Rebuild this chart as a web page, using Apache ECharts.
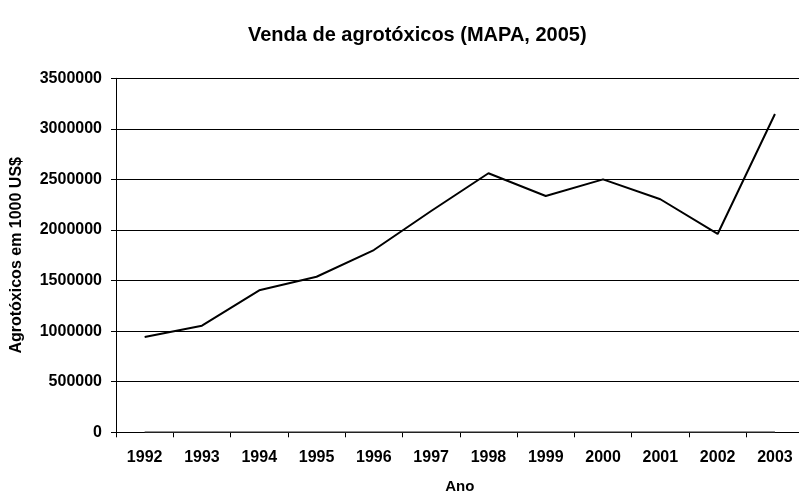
<!DOCTYPE html>
<html><head><meta charset="utf-8">
<script src="https://cdn.jsdelivr.net/npm/echarts@6/dist/echarts.min.js"></script>
<style>html,body{margin:0;padding:0;background:#fff}#c{width:799px;height:491px}</style>
</head><body><div id="c"></div>
<script>
const years = ['1992','1993','1994','1995','1996','1997','1998','1999','2000','2001','2002','2003'];
const sales = [942000,1054000,1404000,1538000,1802000,2188000,2561000,2336000,2501000,2304000,1961000,3147000];
const baseline = [0,0,0,0,0,0,0,0,0,0,0,0];
const yTicks = [0,500000,1000000,1500000,2000000,2500000,3000000,3500000];
const FONT = 'Liberation Sans, Arial, sans-serif';
const chart = echarts.init(document.getElementById('c'), null, {renderer:'canvas'});
chart.setOption({
  animation:false,
  backgroundColor:'#fff',
  title:{text:'Venda de agrotóxicos (MAPA, 2005)', left:243, top:20,
    textStyle:{fontFamily:FONT,fontWeight:'bold',fontSize:20,color:'#000'}},
  grid:{left:116, top:78.3, right:-4.6, bottom:58.7, outerBoundsMode:'none', containLabel:false},
  xAxis:{type:'category', data:years, boundaryGap:true,
    name:'Ano', nameLocation:'middle', nameGap:47,
    nameTextStyle:{fontFamily:FONT,fontWeight:'bold',fontSize:15,color:'#000'},
    axisLine:{lineStyle:{color:'#000',width:1}},
    axisTick:{show:true,length:5,alignWithLabel:false,lineStyle:{color:'#000'}},
    axisLabel:{fontFamily:FONT,fontWeight:'bold',fontSize:16,color:'#000',margin:17,interval:0},
    splitLine:{show:false}},
  yAxis:{type:'value', min:yTicks[0], max:yTicks[yTicks.length-1], interval:500000,
    name:'Agrotóxicos em 1000 US$', nameLocation:'middle', nameGap:91,
    nameTextStyle:{fontFamily:FONT,fontWeight:'bold',fontSize:16,color:'#000'},
    axisLine:{show:true,lineStyle:{color:'#000',width:1}},
    axisTick:{show:true,length:5,lineStyle:{color:'#000'}},
    axisLabel:{fontFamily:FONT,fontWeight:'bold',fontSize:16,color:'#000',margin:14,
      formatter:function(v){return String(v);}},
    splitLine:{show:true,lineStyle:{color:'#000',width:1}}},
  series:[
    {type:'line', data:baseline, symbol:'none', lineStyle:{color:'#222',width:1.6}, z:3},
    {type:'line', data:sales, symbol:'none', lineStyle:{color:'#000',width:2}, z:4}
  ]
});
</script></body></html>
